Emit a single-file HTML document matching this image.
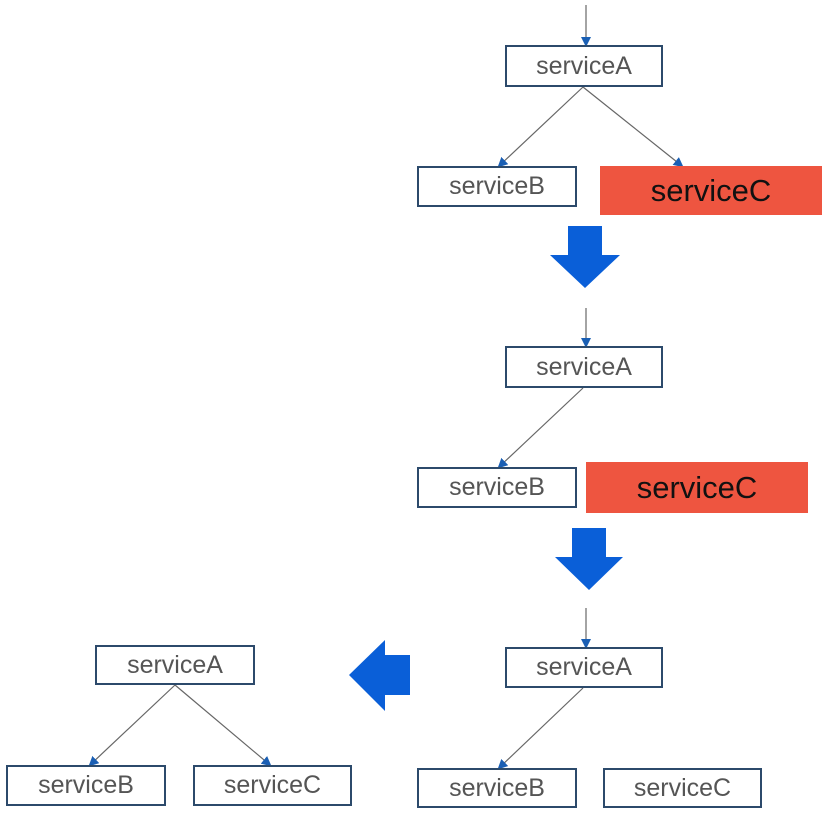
<!DOCTYPE html>
<html><head><style>
body{margin:0;background:#fff;width:826px;height:815px;overflow:hidden;position:relative;font-family:"Liberation Sans",sans-serif}
.b{position:absolute;box-sizing:border-box;border:2px solid #2c4a6b;background:#fff;color:#555;font-size:25px;display:flex;align-items:center;justify-content:center}
.r{position:absolute;background:#ee5540;color:#111;font-size:31px;display:flex;align-items:center;justify-content:center}
svg{position:absolute;left:0;top:0}
</style></head><body>
<svg width="826" height="815">
<defs><marker id="a" markerWidth="10" markerHeight="10" refX="8" refY="5" orient="auto" markerUnits="userSpaceOnUse"><path d="M0,0 L10,5 L0,10 Z" fill="#1a5fb4"/></marker></defs>
<g stroke="#666" stroke-width="1.2" fill="none" marker-end="url(#a)">
<line x1="586" y1="5" x2="586" y2="45"/>
<line x1="583" y1="87" x2="499" y2="166"/>
<line x1="583" y1="87" x2="682" y2="166"/>
<line x1="586" y1="308" x2="586" y2="346"/>
<line x1="583" y1="388" x2="499" y2="467"/>
<line x1="586" y1="608" x2="586" y2="647"/>
<line x1="583" y1="688" x2="499" y2="768"/>
<line x1="175" y1="685" x2="90" y2="765"/>
<line x1="175" y1="685" x2="270" y2="765"/>
</g>
<g fill="#0a5fd8">
<path d="M568,226 H602 V255 H620 L585,288 L550,255 H568 Z"/>
<path d="M572,528 H606 V557 H623 L589,590 L555,557 H572 Z"/>
<path d="M410,655 V695 H385 V711 L349,675 L385,640 V655 Z"/>
</g>
</svg>
<div class="b" style="left:505px;top:45px;width:158px;height:42px">serviceA</div>
<div class="b" style="left:417px;top:166px;width:160px;height:41px">serviceB</div>
<div class="r" style="left:600px;top:166px;width:222px;height:49px">serviceC</div>
<div class="b" style="left:505px;top:346px;width:158px;height:42px">serviceA</div>
<div class="b" style="left:417px;top:467px;width:160px;height:41px">serviceB</div>
<div class="r" style="left:586px;top:462px;width:222px;height:51px">serviceC</div>
<div class="b" style="left:505px;top:647px;width:158px;height:41px">serviceA</div>
<div class="b" style="left:417px;top:768px;width:160px;height:40px">serviceB</div>
<div class="b" style="left:603px;top:768px;width:159px;height:40px">serviceC</div>
<div class="b" style="left:95px;top:645px;width:160px;height:40px">serviceA</div>
<div class="b" style="left:6px;top:765px;width:160px;height:41px">serviceB</div>
<div class="b" style="left:193px;top:765px;width:159px;height:41px">serviceC</div>
</body></html>
